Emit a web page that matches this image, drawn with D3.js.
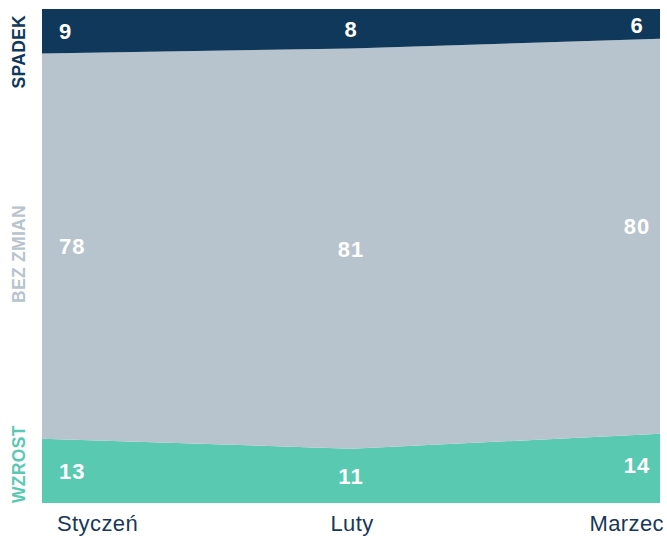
<!DOCTYPE html>
<html>
<head>
<meta charset="utf-8">
<script src="https://cdn.jsdelivr.net/npm/d3@7"></script>
<style>
  body { margin: 0; background: #fff; }
  svg { font-family: "Liberation Sans", Arial, sans-serif; }
</style>
</head>
<body>
<div id="chart"></div>
<script>
let months = ['Styczeń', 'Luty', 'Marzec'];
let wzrost = [13, 11, 14];
let bezZmian = [78, 81, 80];
let spadek = [9, 8, 6];
let seriesNames = ['WZROST', 'BEZ ZMIAN', 'SPADEK'];
let seriesColors = ['#5ac9b2', '#b8c4cd', '#0f385a'];
let labelColors = ['#5ac9b2', '#b8c4cd', '#0f385a'];

let svgWidth = 667, svgHeight = 536,
  plotLeft = 42, plotRight = 660, plotTop = 9, plotBottom = 503;

const svg = d3.select('#chart')
  .append('svg')
  .attr('width', svgWidth)
  .attr('height', svgHeight);

// build rows for stacking
const rows = months.map((m, i) => ({
  month: m, WZROST: wzrost[i], 'BEZ ZMIAN': bezZmian[i], SPADEK: spadek[i]
}));
const stacked = d3.stack().keys(seriesNames)(rows);

const x = d3.scalePoint().domain(months).range([plotLeft, plotRight]);
const y = d3.scaleLinear().domain([0, 100]).range([plotBottom, plotTop]);

const area = d3.area()
  .x(d => x(d.data.month))
  .y0(d => y(d[0]))
  .y1(d => y(d[1]));

// areas
svg.selectAll('.layer')
  .data(stacked)
  .enter()
  .append('path')
  .attr('class', 'layer')
  .attr('d', area)
  .attr('fill', (d, i) => seriesColors[i]);

// value labels inside bands
const anchorOf = i => i === 0 ? 'start' : (i === months.length - 1 ? 'end' : 'middle');
const valAnchor = i => i === 0 ? 'start' : 'middle';
const dxOf = i => i === 0 ? 17 : (i === months.length - 1 ? -23 : 0);
// last column labels sit a bit higher in the original
const lastNudge = [-3, -10, 1];

stacked.forEach((layer, li) => {
  svg.selectAll(null)
    .data(layer)
    .enter()
    .append('text')
    .attr('x', (d, i) => x(d.data.month) + dxOf(i))
    .attr('y', (d, i) => y((d[0] + d[1]) / 2) + (i === months.length - 1 ? lastNudge[li] : 0))
    .attr('dy', '0.36em')
    .attr('text-anchor', (d, i) => valAnchor(i))
    .attr('fill', '#fff')
    .attr('font-weight', 'bold')
    .attr('font-size', 22)
    .attr('letter-spacing', 1)
    .text(d => d[1] - d[0]);
});

// month labels
svg.selectAll('.x-label')
  .data(months)
  .enter()
  .append('text')
  .attr('class', 'x-label')
  .attr('x', (d, i) => x(d) + (i === 0 ? 15 : (i === months.length - 1 ? 4 : 1)))
  .attr('y', plotBottom + 28)
  .attr('text-anchor', (d, i) => anchorOf(i))
  .attr('fill', '#17385a')
  .attr('font-size', 22)
  .attr('letter-spacing', 0.4)
  .text(d => d);

// rotated series names on the left
const nameY = [y(0), y(50) - 2, y(100) + 6];
const nameAnchor = ['start', 'middle', 'end'];
seriesNames.forEach((name, i) => {
  svg.append('text')
    .attr('transform', `translate(25, ${nameY[i]}) rotate(-90)`)
    .attr('text-anchor', nameAnchor[i])
    .attr('fill', labelColors[i])
    .attr('font-weight', 'bold')
    .attr('font-size', 17.5)
    .attr('letter-spacing', 0.3)
    .text(name);
});
</script>
</body>
</html>
